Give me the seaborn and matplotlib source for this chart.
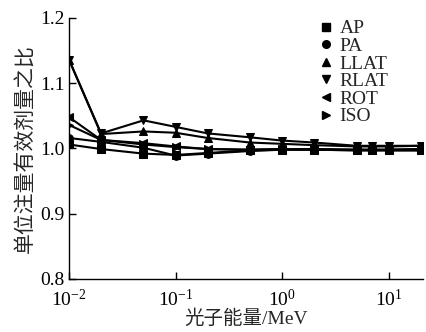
import numpy as np
import pandas as pd
import matplotlib
matplotlib.use("Agg")
import matplotlib.pyplot as plt
import seaborn as sns

# Datos (razón de dosis efectiva por unidad de fluencia)
energia = [0.01, 0.02, 0.05, 0.1, 0.2, 0.5, 1, 2, 5, 7, 10, 20]
geometrias = ["AP", "PA", "LLAT", "RLAT", "ROT", "ISO"]
ap   = [1.006, 0.999, 0.992, 0.990, 0.993, 0.997, 0.998, 0.998, 0.997, 0.997, 0.997, 0.997]
pa   = [1.016, 1.010, 1.001, 0.989, 0.992, 0.996, 0.998, 0.998, 0.997, 0.997, 0.997, 0.997]
llat = [1.136, 1.022, 1.026, 1.024, 1.016, 1.009, 1.007, 1.005, 1.003, 1.003, 1.003, 1.004]
rlat = [1.136, 1.023, 1.043, 1.033, 1.023, 1.017, 1.012, 1.009, 1.004, 1.004, 1.004, 1.004]
rot  = [1.048, 1.013, 1.008, 1.003, 0.999, 0.998, 0.999, 0.999, 0.998, 0.998, 0.998, 0.999]
iso  = [1.036, 1.013, 1.006, 1.002, 0.999, 0.998, 0.999, 0.999, 0.998, 0.998, 0.998, 0.999]
marcadores = {"AP": "s", "PA": "o", "LLAT": "^", "RLAT": "v", "ROT": "<", "ISO": ">"}

valores = [ap, pa, llat, rlat, rot, iso]
df = pd.concat([
    pd.DataFrame({"E": energia, "ratio": v, "geo": g})
    for g, v in zip(geometrias, valores)
], ignore_index=True)

sns.set_theme(style="ticks")
plt.rcParams["font.family"] = ["Liberation Serif", "Noto Sans CJK SC"]
plt.rcParams["mathtext.fontset"] = "stix"

fig = plt.figure(figsize=(4.26, 3.32), dpi=100)
ax = fig.add_axes([0.162, 0.160, 0.831, 0.786])

sns.lineplot(data=df, x="E", y="ratio", hue="geo", style="geo",
             hue_order=geometrias, style_order=geometrias,
             palette=["black"] * 6, markers=marcadores, dashes=False,
             markersize=5.5, linewidth=1.5, markeredgecolor="black",
             legend=False, ax=ax)

ax.set_xscale("log")
ax.set_xlim(0.01, 21)
ax.set_ylim(0.8, 1.2)
ax.set_yticks([0.8, 0.9, 1.0, 1.1, 1.2])
ax.set_yticklabels(["0.8", "0.9", "1.0", "1.1", "1.2"])
ax.minorticks_off()
ax.tick_params(direction="in", length=5, width=1, labelsize=14, colors="black")
ax.tick_params(axis="x", pad=7)
ax.tick_params(axis="y", pad=3)
for s in ["top", "right"]:
    ax.spines[s].set_visible(False)
for s in ["left", "bottom"]:
    ax.spines[s].set_linewidth(1)
    ax.spines[s].set_color("black")

ax.set_xlabel("光子能量/MeV", fontsize=14, labelpad=0)
ax.set_ylabel("单位注量有效剂量之比", fontsize=15, labelpad=3)

# Leyenda solo con marcadores
handles = [plt.Line2D([], [], linestyle="none", marker=marcadores[g], color="black",
                      markersize=5.5) for g in geometrias]
ax.legend(handles, geometrias, loc="upper right", frameon=False, fontsize=14,
          handletextpad=0.1, labelspacing=0.0, borderaxespad=0.1,
          handlelength=1.2, bbox_to_anchor=(0.93, 1.03))

fig.savefig("out.png", dpi=100)
